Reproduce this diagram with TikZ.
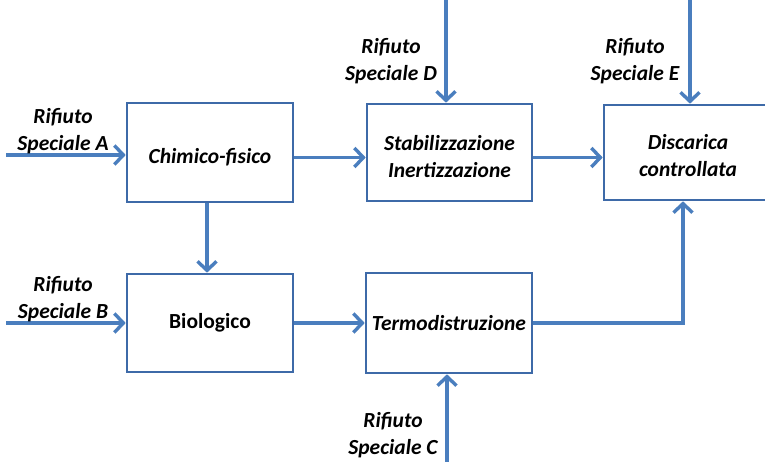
\documentclass[tikz,border=0pt]{standalone}
\usepackage{fontspec}
\setmainfont{Carlito}
\usetikzlibrary{arrows.meta,calc}
\definecolor{flow}{RGB}{74,126,190}
\definecolor{boxline}{RGB}{62,106,168}
\begin{document}
\begin{tikzpicture}[x=1pt,y=-1pt,
  procbox/.style={draw=boxline,line width=2.6pt,fill=white,inner sep=0pt},
  boxtext/.style={align=center,inner sep=0pt,font=\fontsize{21.5}{27}\selectfont\bfseries\itshape},
  lbl/.style={align=center,inner sep=0pt,font=\fontsize{21.5}{27}\selectfont\bfseries\itshape},
  flowarrow/.style={draw=flow,line width=3.4pt,-{Straight Barb[length=9pt,width=19pt,line width=3.4pt]}}
]
\clip (0,0) rectangle (765,462);
\fill[white] (0,0) rectangle (765,462);

\node[procbox,minimum width=166pt,minimum height=99pt] (chim) at (210,152.5) {};
\node[procbox,minimum width=166pt,minimum height=98pt] (bio) at (210,323) {};
\node[procbox,minimum width=165pt,minimum height=97pt] (stab) at (449.5,152.5) {};
\node[procbox,minimum width=166pt,minimum height=100pt] (termo) at (449,323) {};
\node[procbox,minimum width=168pt,minimum height=95pt] (disc) at (688,152.5) {};

\node[boxtext] (chimT) at ([yshift=-5pt]chim.center) {Chimico-fisico};
\node[boxtext,font=\fontsize{21.5}{27}\selectfont\bfseries] (bioT) at (bio.center) {Biologico};
\node[boxtext] (stabT) at ([yshift=-4pt]stab.center) {Stabilizzazione\\Inertizzazione};
\node[boxtext] (termoT) at (termo.center) {Termodistruzione};
\node[boxtext] (discT) at ([yshift=-3pt]disc.center) {Discarica\\controllata};

\coordinate (inA) at (6,155);
\coordinate (inB) at (6,323);
\coordinate (inD) at (446,-2);
\coordinate (inE) at (690,-2);
\coordinate (inC) at (447,464);

\draw[flowarrow] (inA) -- (inA -| chim.west);
\draw[flowarrow] (inB) -- (bio.west);
\draw[flowarrow] (inD) -- (inD |- stab.north);
\draw[flowarrow] (inE) -- (inE |- disc.north);
\draw[flowarrow] (inC) -- (inC |- termo.south);
\draw[flowarrow] ([yshift=-5pt]chim.east) -- ([yshift=-5pt]stab.west);
\draw[flowarrow] ([yshift=-5pt]stab.east) -- ([yshift=-5pt]disc.west);
\draw[flowarrow] ([xshift=-3pt]chim.south) -- ([xshift=-3pt]bio.north);
\draw[flowarrow] (bio.east) -- (termo.west);
\draw[flowarrow] (termo.east) -| ([xshift=-5pt]disc.south);

\node[lbl] (lA) at (63,131) {Rifiuto\\Speciale A};
\node[lbl] (lB) at (63,299) {Rifiuto\\Speciale B};
\node[lbl] (lD) at (391,61) {Rifiuto\\Speciale D};
\node[lbl] (lE) at (635,61) {Rifiuto\\Speciale E};
\node[lbl] (lC) at (393,435) {Rifiuto\\Speciale C};
\end{tikzpicture}
\end{document}
